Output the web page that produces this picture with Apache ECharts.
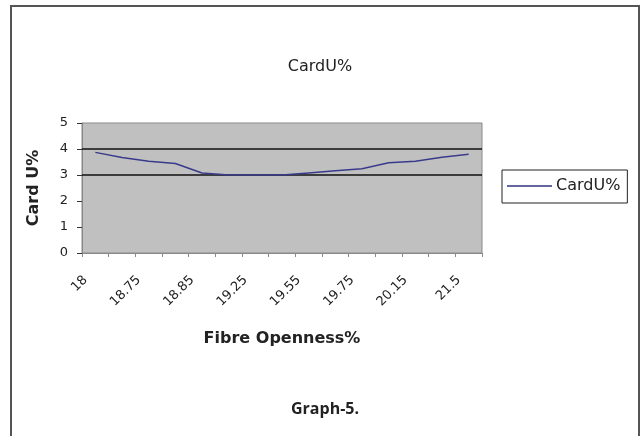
<!DOCTYPE html>
<html>
<head>
<meta charset="utf-8">
<script src="https://cdn.jsdelivr.net/npm/echarts@6/dist/echarts.min.js"></script>
<style>
html,body{margin:0;padding:0;background:#fff;}
#c{width:640px;height:436px;}
</style>
</head>
<body>
<div id="c"></div>
<script>
var categories = ['18','18.5','18.75','18.8','18.85','19','19.25','19.4','19.55','19.65','19.75','20','20.15','20.5','21.5'];
var cardU = [3.87, 3.67, 3.53, 3.44, 3.08, 3.0, 3.0, 3.0, 3.08, 3.16, 3.24, 3.47, 3.53, 3.68, 3.8];
var yTicks = [0, 1, 2, 3, 4, 5];
var refLines = [3, 4];
var titleText = 'CardU%';
var seriesName = 'CardU%';
var xName = 'Fibre Openness%';
var yName = 'Card U%';
var caption = 'Graph-5.';

var chart = echarts.init(document.getElementById('c'), null, {renderer: 'canvas'});
var font = 'DejaVu Sans';
var lineColor = '#3a3a8c';
chart.setOption({
  animation: false,
  backgroundColor: '#fff',
  textStyle: {fontFamily: font},
  title: {
    text: titleText,
    left: 'center',
    top: 54,
    textStyle: {fontFamily: font, fontSize: 16, fontWeight: 'normal', color: '#222'}
  },
  legend: {
    left: 502,
    top: 170,
    orient: 'vertical',
    padding: [8, 7, 9, 5],
    itemWidth: 45,
    itemHeight: 10,
    itemGap: 0,
    borderColor: '#222',
    borderWidth: 1,
    textStyle: {fontFamily: font, fontSize: 16, color: '#222', padding: [0, 0, 0, -1]},
    data: [{name: seriesName, icon: 'path://M0,6 L45,6 L45,7.5 L0,7.5 Z', itemStyle: {color: '#33337f'}}]
  },
  grid: {
    left: 82, right: 158, top: 123, bottom: 183,
    show: true,
    backgroundColor: '#c0c0c0',
    borderColor: '#8a8a8a',
    borderWidth: 1
  },
  xAxis: {
    type: 'category',
    data: categories,
    boundaryGap: true,
    name: xName,
    nameLocation: 'middle',
    nameGap: 78,
    nameTextStyle: {fontFamily: font, fontSize: 16, fontWeight: 'bold', color: '#222'},
    axisLine: {lineStyle: {color: '#888', width: 1}},
    axisTick: {show: true, length: 4, interval: 0, lineStyle: {color: '#888'}},
    axisLabel: {interval: 1, rotate: 45, margin: 15, padding: [0, 14, 0, 0], fontFamily: font, fontSize: 13, color: '#222'},
    splitLine: {show: false}
  },
  yAxis: {
    type: 'value',
    min: 0, max: 5, interval: 1,
    name: yName,
    nameLocation: 'middle',
    nameGap: 40,
    nameTextStyle: {fontFamily: font, fontSize: 16, fontWeight: 'bold', color: '#222'},
    axisLine: {show: true, lineStyle: {color: '#888', width: 1}},
    axisTick: {show: true, length: 5, inside: false, lineStyle: {color: '#333'}},
    axisLabel: {margin: 14, fontFamily: font, fontSize: 13, color: '#222',
      formatter: function (v) { return yTicks.indexOf(v) >= 0 ? String(v) : ''; }},
    splitLine: {show: false}
  },
  series: [{
    name: seriesName,
    type: 'line',
    data: cardU,
    symbol: 'none',
    lineStyle: {color: lineColor, width: 1.5},
    itemStyle: {color: lineColor},
    z: 3,
    markLine: {
      silent: true,
      symbol: ['none', 'none'],
      label: {show: false},
      lineStyle: {color: '#111', width: 1.5, type: 'solid'},
      data: refLines.map(function (v) { return {yAxis: v}; }),
      z: 2
    }
  }],
  graphic: [
    {type: 'rect', shape: {x: 11, y: 6, width: 628, height: 440},
     style: {fill: 'none', stroke: '#555', lineWidth: 2}, z: 0, silent: true},
    {type: 'text', left: 291, top: 401,
     style: {text: caption, font: 'bold 16px "Open Sans"', fill: '#222'}}
  ]
});
</script>
</body>
</html>
